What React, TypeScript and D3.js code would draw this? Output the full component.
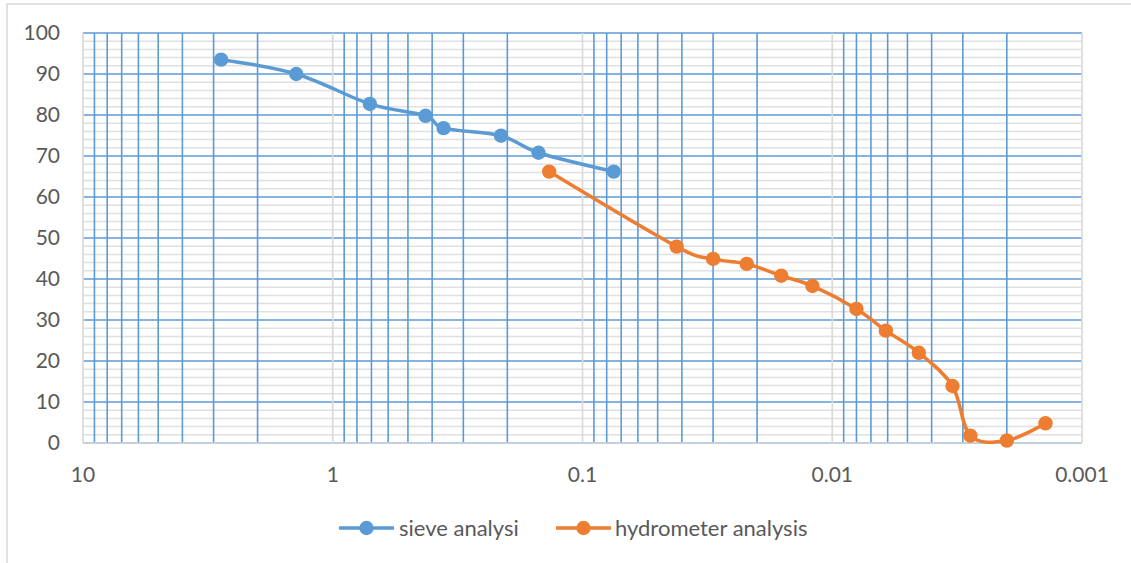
import React from "react";
import * as d3 from "d3";

// grain size (mm) and percent passing
const sieveSize = [2.8, 1.4, 0.71, 0.425, 0.36, 0.212, 0.15, 0.075];
const sievePass = [93.5, 90.0, 82.7, 79.8, 76.8, 74.95, 70.8, 66.2];

const hydroSize = [0.136, 0.042, 0.03, 0.022, 0.016, 0.012, 0.008, 0.0061, 0.0045, 0.0033, 0.0028, 0.002, 0.0014];
const hydroPass = [66.2, 47.9, 44.9, 43.7, 40.8, 38.3, 32.7, 27.4, 22.0, 13.9, 1.8, 0.6, 4.8];

const xTicks = [10, 1, 0.1, 0.01, 0.001];
const xTickLabels = ["10", "1", "0.1", "0.01", "0.001"];
const yTicks = [0, 10, 20, 30, 40, 50, 60, 70, 80, 90, 100];

const seriesNames = ["sieve analysi", "hydrometer analysis"];
const seriesColors = ["#5B9BD5", "#ED7D31"];

const FONT = "Lato, 'Open Sans', sans-serif";
const TEXT = "#595959";

export default function App() {
  const width = 1131,
    height = 563;
  const margin = { left: 83, right: 49, top: 33, bottom: 120 };
  const plotW = width - margin.left - margin.right;
  const plotH = height - margin.top - margin.bottom;

  const x = d3.scaleLog().domain([10, 0.001]).range([margin.left, margin.left + plotW]);
  const y = d3.scaleLinear().domain([0, 100]).range([margin.top + plotH, margin.top]);

  // minor gridlines: 2..9 within each decade, every 2 % on y
  const xMinor: number[] = [];
  for (let d = 0.001; d < 9; d *= 10) {
    for (let k = 2; k <= 9; k++) xMinor.push(+(k * d).toPrecision(3));
  }
  const yMinor = d3.range(0, 101, 2).filter(v => v % 10 !== 0);

  const line = d3
    .line<[number, number]>()
    .x(d => x(d[0]))
    .y(d => y(d[1]))
    .curve(d3.curveCatmullRom.alpha(0));

  const series = [
    sieveSize.map((s, i) => [s, sievePass[i]] as [number, number]),
    hydroSize.map((s, i) => [s, hydroPass[i]] as [number, number])
  ];

  const x0 = margin.left,
    x1 = margin.left + plotW,
    y0 = margin.top,
    y1 = margin.top + plotH;

  const legendY = 528;
  const legendItems = [
    { lx: 339, tx: 399 },
    { lx: 556, tx: 615 }
  ];

  return (
    <svg
      width={width}
      height={height}
      style={{ position: "absolute", left: 0, top: 0, background: "#fff" }}
    >
      <rect x={7} y={4} width={width + 10} height={height + 10} fill="#fff" stroke="#D9D9D9" strokeWidth={1.5} />

      {/* horizontal minor grid */}
      {yMinor.map(v => (
        <line key={"ym" + v} x1={x0} x2={x1} y1={y(v)} y2={y(v)} stroke="#E0E0E0" strokeWidth={1.5} />
      ))}
      {/* horizontal major grid */}
      {yTicks.map(v => (
        <line key={"yM" + v} x1={x0} x2={x1} y1={y(v)} y2={y(v)} stroke="#5B9BD5" strokeWidth={1.7} />
      ))}
      {/* vertical minor grid */}
      {xMinor.map(v => (
        <line key={"xm" + v} x1={x(v)} x2={x(v)} y1={y0} y2={y1} stroke="#5B9BD5" strokeWidth={1.6} />
      ))}
      {/* vertical major grid */}
      {xTicks.map(v => (
        <line key={"xM" + v} x1={x(v)} x2={x(v)} y1={y0} y2={y1} stroke="#D9D9D9" strokeWidth={1.7} />
      ))}
      {/* horizontal axis line */}
      <line x1={x0} x2={x1} y1={y1} y2={y1} stroke="#D9D9D9" strokeWidth={1.7} />

      {/* y tick labels */}
      {yTicks.map(v => (
        <text
          key={"yl" + v}
          x={60}
          y={y(v)}
          dy="0.35em"
          textAnchor="end"
          fontFamily={FONT}
          fontSize={21}
          fill={TEXT}
        >
          {v}
        </text>
      ))}
      {/* x tick labels */}
      {xTicks.map((v, i) => (
        <text
          key={"xl" + v}
          x={x(v)}
          y={475}
          dy="0.35em"
          textAnchor="middle"
          fontFamily={FONT}
          fontSize={21}
          fill={TEXT}
        >
          {xTickLabels[i]}
        </text>
      ))}

      {/* series */}
      {series.map((pts, si) => (
        <g key={"s" + si}>
          <path d={line(pts) || ""} fill="none" stroke={seriesColors[si]} strokeWidth={3.5} strokeLinejoin="round" />
          {pts.map((p, i) => (
            <circle key={i} cx={x(p[0])} cy={y(p[1])} r={7.2} fill={seriesColors[si]} />
          ))}
        </g>
      ))}

      {/* legend */}
      {legendItems.map((it, i) => (
        <g key={"lg" + i}>
          <line x1={it.lx} x2={it.lx + 55} y1={legendY} y2={legendY} stroke={seriesColors[i]} strokeWidth={3.5} />
          <circle cx={it.lx + 27.5} cy={legendY} r={7.2} fill={seriesColors[i]} />
          <text x={it.tx} y={legendY} dy="0.35em" fontFamily={FONT} fontSize={22} fill={TEXT}>
            {seriesNames[i]}
          </text>
        </g>
      ))}
    </svg>
  );
}
